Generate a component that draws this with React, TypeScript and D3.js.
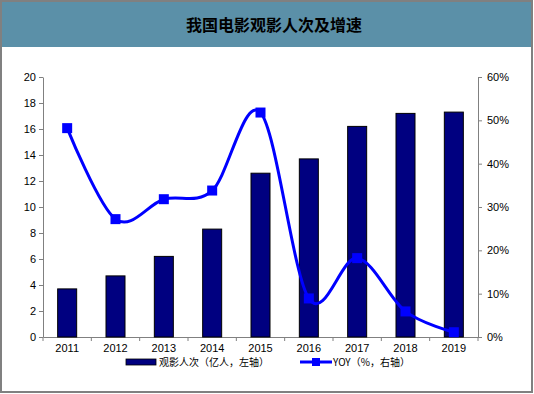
import React, { useEffect, useRef } from 'react';
import * as d3 from 'd3';

const years = ['2011', '2012', '2013', '2014', '2015', '2016', '2017', '2018', '2019'];
const admissions = [3.7, 4.7, 6.2, 8.3, 12.6, 13.7, 16.2, 17.2, 17.3];
const yoy = [48.2, 27.2, 31.8, 33.8, 51.8, 8.9, 18.2, 5.9, 1.1];
const leftTicks = [0, 2, 4, 6, 8, 10, 12, 14, 16, 18, 20];
const rightTicks = [0, 10, 20, 30, 40, 50, 60];

const W = 534;
const H = 394;

const App = () => {
    const svgRef = useRef<SVGSVGElement>(null);

    useEffect(() => {
        const svg = d3.select(svgRef.current);
        svg.selectAll('*').remove();

        const left = 43, right = 478, top = 77, bottom = 337;
        const font = '"Liberation Sans", Arial, sans-serif';
        const cjk = '"Noto Sans CJK SC", sans-serif';

        // frame + title bar
        svg.append('rect').attr('x', 0).attr('y', 0).attr('width', W).attr('height', H).attr('fill', '#fff');
        svg.append('rect').attr('x', 1).attr('y', 1).attr('width', 531).attr('height', 46).attr('fill', '#5b90a8');
        svg.append('rect').attr('x', 1).attr('y', 1).attr('width', 531).attr('height', 391)
            .attr('fill', 'none').attr('stroke', '#808080').attr('stroke-width', 2);
        svg.append('text')
            .attr('x', 274).attr('y', 31)
            .attr('text-anchor', 'middle')
            .attr('font-family', cjk).attr('font-weight', 'bold').attr('font-size', 16)
            .attr('fill', '#000')
            .text('我国电影观影人次及增速');

        const x = d3.scaleBand().domain(years).range([left, right]).paddingInner(0).paddingOuter(0);
        const y = d3.scaleLinear().domain([0, 20]).range([bottom, top]);
        const y2 = d3.scaleLinear().domain([0, 60]).range([bottom, top]);

        // axes
        const axisColor = '#808080';
        const gl = svg.append('g').attr('transform', `translate(${left},0)`)
            .call(d3.axisLeft(y).tickValues(leftTicks).tickSize(4).tickSizeOuter(0));
        const gr = svg.append('g').attr('transform', `translate(${right},0)`)
            .call(d3.axisRight(y2).tickValues(rightTicks).tickSize(4).tickSizeOuter(0).tickFormat(d => `${d}%`));
        const gb = svg.append('g').attr('transform', `translate(0,${bottom})`)
            .call(d3.axisBottom(x).tickSize(0).tickSizeOuter(0));
        gb.selectAll('.tick text').attr('dy', '1.1em');
        // band boundary ticks
        svg.append('g').selectAll('line')
            .data(d3.range(years.length + 1))
            .enter().append('line')
            .attr('x1', i => left + i * x.bandwidth()).attr('x2', i => left + i * x.bandwidth())
            .attr('y1', bottom).attr('y2', bottom + 4)
            .attr('stroke', axisColor);

        [gl, gr, gb].forEach(g => {
            g.selectAll('path,line').attr('stroke', axisColor);
            g.selectAll('text').attr('font-family', font).attr('font-size', 11).attr('fill', '#000');
        });
        gl.selectAll('.tick text').attr('x', -7);
        gr.selectAll('.tick text').attr('x', 9);

        // bars
        const bw = 19;
        svg.append('g').selectAll('rect')
            .data(admissions)
            .enter().append('rect')
            .attr('x', (d, i) => x(years[i])! + x.bandwidth() / 2 - bw / 2)
            .attr('y', d => y(d))
            .attr('width', bw)
            .attr('height', d => bottom - y(d))
            .attr('fill', '#000080')
            .attr('stroke', '#000').attr('stroke-width', 1);

        // yoy line
        const line = d3.line<number>()
            .x((d, i) => x(years[i])! + x.bandwidth() / 2)
            .y(d => y2(d))
            .curve(d3.curveCardinal.tension(0));
        svg.append('path')
            .attr('d', line(yoy))
            .attr('fill', 'none')
            .attr('stroke', '#0000ff')
            .attr('stroke-width', 3);
        svg.append('g').selectAll('rect')
            .data(yoy)
            .enter().append('rect')
            .attr('x', (d, i) => x(years[i])! + x.bandwidth() / 2 - 5)
            .attr('y', d => y2(d) - 5)
            .attr('width', 10).attr('height', 10)
            .attr('fill', '#0000ff');

        // legend
        const ly = 362;
        svg.append('rect').attr('x', 126).attr('y', ly - 3).attr('width', 30).attr('height', 6)
            .attr('fill', '#000080').attr('stroke', '#000').attr('stroke-width', 0.8);
        svg.append('text').attr('x', 159).attr('y', ly + 4)
            .attr('font-family', cjk).attr('font-size', 10).attr('fill', '#000')
            .text('观影人次（亿人，左轴）');
        svg.append('line').attr('x1', 300).attr('x2', 332).attr('y1', ly).attr('y2', ly)
            .attr('stroke', '#0000ff').attr('stroke-width', 3);
        svg.append('rect').attr('x', 312).attr('y', ly - 4).attr('width', 8).attr('height', 8).attr('fill', '#0000ff');
        svg.append('text').attr('x', 333).attr('y', ly + 4)
            .attr('font-family', cjk).attr('font-size', 10).attr('fill', '#000')
            .text('YOY（%，右轴）');
    }, []);

    return (
        <svg ref={svgRef} width={W} height={H} style={{ position: 'absolute', left: 0, top: 0 }}></svg>
    );
};

export default App;
